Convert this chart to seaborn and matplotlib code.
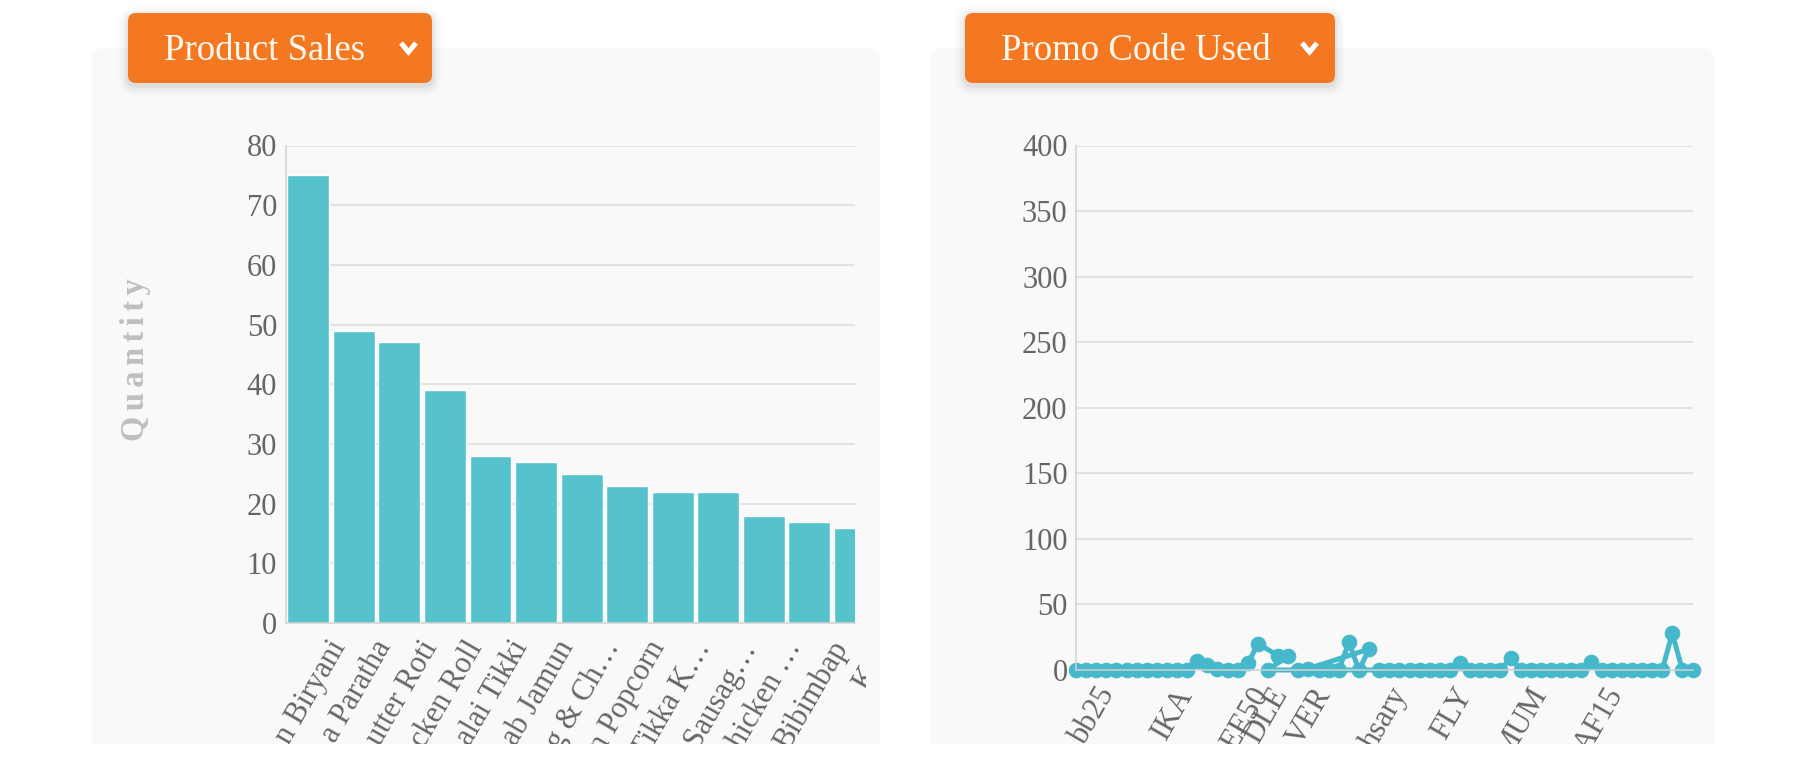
import matplotlib
matplotlib.use("Agg")
import matplotlib.pyplot as plt
import seaborn as sns
from matplotlib.patches import FancyBboxPatch, Rectangle
from matplotlib.lines import Line2D
from matplotlib.transforms import IdentityTransform, ScaledTranslation, Bbox, TransformedBbox

# ---- data ----
products = ["n Biryani", "a Paratha", "utter Roti", "cken Roll", "alai Tikki", "ab Jamun",
            "g & Ch…", "n Popcorn", "Tikka K…", "Sausag…", "hicken …", "Bibimbap", "K…"]
quantity = [75, 49, 47, 39, 28, 27, 25, 23, 22, 22, 18, 17, 16]

# promo chart: category slot of each point, in the order the line visits them
promo_pos = [0, 1, 2, 3, 4, 5, 6, 7, 8, 9, 10, 11, 12, 13, 14, 15, 16, 17, 18,
             20, 21, 19, 22, 23, 29, 28, 27, 26, 25, 24,
             30, 31, 32, 33, 34, 35, 36, 37, 38, 39, 40, 41, 42, 43, 44, 45,
             46, 47, 48, 49, 50, 51, 52, 53, 54, 55, 56, 57, 58, 59, 60, 61]
promo_used = [0, 0, 0, 0, 0, 0, 0, 0, 0, 0, 0, 0, 7, 4, 1, 0, 0, 5, 20,
              11, 11, 0, 0, 1, 16, 0, 21, 0, 0, 0,
              0, 0, 0, 0, 0, 0, 0, 0, 5, 0, 0, 0, 0, 9, 0, 0,
              0, 0, 0, 0, 0, 6, 0, 0, 0, 0, 0, 0, 0, 28, 0, 0]
promo_tick_pos = [0, 7.8, 15.3, 17.2, 21.5, 29.1, 35.5, 42.9, 50.4]
promo_tick_labels = ["bb25", "IKA", "EE50", "DLE", "VER", "hsary", "FLY", "MUM", "AF15"]

bar_color = "#56c2cb"
line_color = "#45b8cc"
orange = "#f47721"
grid_color = "#dcdcdc"
text_color = "#666666"

sns.set_style("white")
plt.rcParams["font.family"] = ["Liberation Serif", "DejaVu Serif"]

W, H = 1809, 764
fig = plt.figure(figsize=(W / 100, H / 100), dpi=100)
fig.patch.set_facecolor("white")
px = IdentityTransform()


def card(x0, x1):
    fig.add_artist(FancyBboxPatch((x0, 0), x1 - x0, H - 48,
                                  boxstyle="round,pad=0,rounding_size=14",
                                  fc="#f9f9f9", ec="none", transform=px, zorder=-2))


def button(x0, x1, label, chev_x):
    for i, a in enumerate([0.045, 0.03, 0.018, 0.009]):
        g = 2 + i * 3
        fig.add_artist(FancyBboxPatch((x0 - g, H - 83 - g - 3), x1 - x0 + 2 * g, 70 + 2 * g,
                                      boxstyle="round,pad=0,rounding_size=%d" % (8 + g),
                                      fc="black", alpha=a, ec="none", transform=px, zorder=4))
    fig.add_artist(FancyBboxPatch((x0, H - 83), x1 - x0, 70,
                                  boxstyle="round,pad=0,rounding_size=8",
                                  fc=orange, ec="none", transform=px, zorder=5))
    fig.text(x0 + 36, H - 60, label, transform=px, fontsize=26.5, color="#fff8ef",
             ha="left", va="baseline", zorder=6)
    fig.add_artist(Line2D([chev_x, chev_x + 7.5, chev_x + 15], [H - 43, H - 52, H - 43],
                          transform=px, color="white", lw=3.6, solid_joinstyle="miter",
                          solid_capstyle="butt", zorder=6))


card(92, 880)
card(930, 1715)

# ---- left: product sales ----
ax1 = fig.add_axes([285.5 / W, 1 - 623 / H, 569.5 / W, 477.5 / H])
ax1.patch.set_alpha(0)
sns.barplot(x=products, y=quantity, color=bar_color, saturation=1, width=0.92, ax=ax1)
ax1.set_xlim(-0.5, 11.83)
ax1.set_ylim(0, 80)
ax1.set_yticks(range(0, 81, 10))
ax1.set_xticks([-0.5] + list(range(len(products))))
ax1.set_xticklabels([""] + products)
sp = "\u2006"
ax1.set_ylabel(sp.join("Quantity"), fontsize=23.5, fontweight="bold", color="#bfbfbf")
ax1.yaxis.set_label_coords((151 - 285.5) / 569.5, (623 - 360) / 477.5)

# ---- right: promo codes ----
ax2 = fig.add_axes([1076 / W, 1 - 670 / H, 616.5 / W, 524.5 / H])
ax2.patch.set_alpha(0)
sns.lineplot(x=promo_pos, y=promo_used, sort=False, estimator=None, marker="o",
             color=line_color, lw=3.6, markersize=10.5, markeredgecolor=line_color,
             clip_on=False, ax=ax2)
ax2.set_xlim(0, 61)
ax2.set_ylim(0, 400)
ax2.set_yticks(range(0, 401, 50))
ax2.set_xticks(promo_tick_pos)
ax2.set_xticklabels(promo_tick_labels)

for ax in (ax1, ax2):
    ax.yaxis.grid(True, color=grid_color, lw=1.1)
    ax.set_axisbelow(True)
    ax.set_xlabel("")
    for s in ("top", "right"):
        ax.spines[s].set_visible(False)
    for s in ("left", "bottom"):
        ax.spines[s].set_color("#d2d2d2")
        ax.spines[s].set_linewidth(1.1)
    ax.tick_params(axis="x", length=8.6, width=1.1, color="#d2d2d2", pad=0.5,
                   labelsize=22, labelcolor=text_color)
    ax.tick_params(axis="y", length=3.6, width=1.1, color="#d2d2d2", pad=2.5,
                   labelsize=22, labelcolor=text_color)
    off = ScaledTranslation(0.19, 0, fig.dpi_scale_trans)
    for lab in ax.get_xticklabels():
        lab.set_rotation(60)
        lab.set_rotation_mode("anchor")
        lab.set_ha("right")
        lab.set_va("top")
        lab.set_transform(lab.get_transform() + off)

# the left chart canvas stops just right of the plot area
canvas_clip = TransformedBbox(Bbox.from_extents(0, 0, 866, H), px)
for lab in ax1.get_xticklabels():
    lab.set_clip_on(True)
    lab.set_clip_box(canvas_clip)

button(128, 432, "Product Sales", 401)
button(965, 1335, "Promo Code Used", 1302)

# the page is cut off below the cards
fig.add_artist(Rectangle((0, 0), W, H - 744, fc="white", ec="none", transform=px, zorder=10))

fig.savefig("out.png", dpi=100)
